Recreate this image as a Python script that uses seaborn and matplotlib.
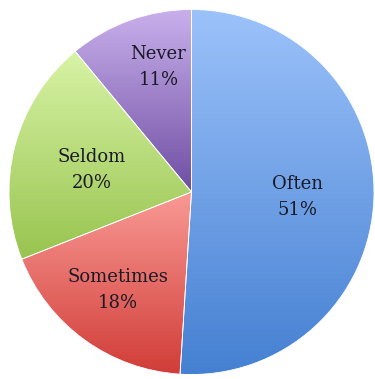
import numpy as np
import matplotlib
matplotlib.use("Agg")
import matplotlib.pyplot as plt
from matplotlib.colors import LinearSegmentedColormap
import seaborn as sns

categories = ["Often", "Sometimes", "Seldom", "Never"]
values = [51, 18, 20, 11]
top_colors = ["#9cc2fa", "#f99a95", "#d8f3a6", "#c9b0ec"]
bottom_colors = ["#4580d2", "#d13d38", "#98c44f", "#6f4ea3"]
label_dist = [0.58, 0.67, 0.56, 0.71]
label_shift = [-1.0, -1.0, 2.0, -5.0]  # degrees

sns.set_theme(style="white")
plt.rcParams["font.family"] = ["DejaVu Serif"]

W, H = 375, 379
fig = plt.figure(figsize=(W / 100, H / 100), dpi=100)
ax = fig.add_axes([0, 0, 1, 1])

wedges, _ = ax.pie(values, startangle=90, counterclock=False, radius=1.0,
                   colors=sns.color_palette(bottom_colors),
                   wedgeprops=dict(edgecolor="white", linewidth=0.6))

for w, c_top, c_bot, lab, v, d, s in zip(wedges, top_colors, bottom_colors,
                                         categories, values, label_dist,
                                         label_shift):
    w.set_zorder(3)
    w.set_facecolor("none")
    bb = w.get_path().get_extents(w.get_patch_transform())
    cmap = LinearSegmentedColormap.from_list("g", [c_bot, c_top])
    grad = np.linspace(0, 1, 256).reshape(-1, 1)
    im = ax.imshow(grad, cmap=cmap, origin="lower", aspect="auto",
                   extent=[bb.x0, bb.x1, bb.y0, bb.y1], zorder=2,
                   interpolation="bicubic")
    im.set_clip_path(w)
    ang = np.deg2rad((w.theta1 + w.theta2) / 2 + s)
    ax.text(d * np.cos(ang), d * np.sin(ang), f"{lab}\n{v}%",
            ha="center", va="center", fontsize=13, color="#1a1a26",
            linespacing=1.55, zorder=5)

cx, cy, r = 191.5, 192, 182.5
ax.set_xlim(-cx / r, (W - cx) / r)
ax.set_ylim(-(H - cy) / r, cy / r)
ax.set_aspect("auto")
ax.axis("off")
fig.savefig("out.png", dpi=100)
